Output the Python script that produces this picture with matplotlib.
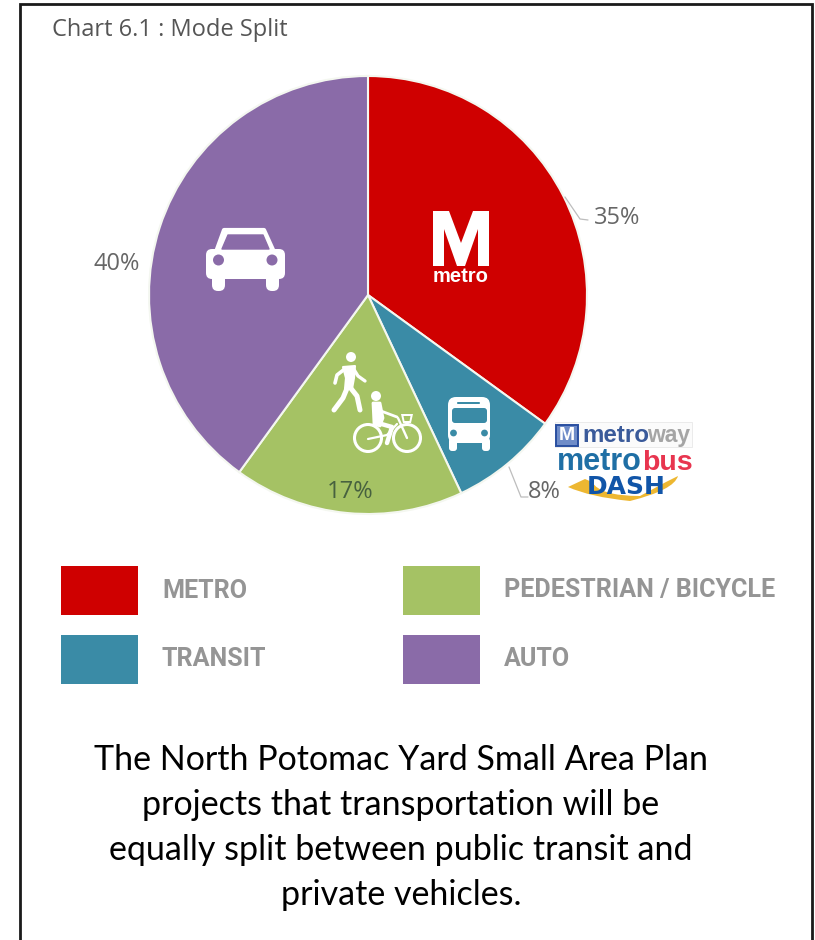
import matplotlib
matplotlib.use("Agg")
import matplotlib.pyplot as plt
from matplotlib.patches import Rectangle, Circle, FancyBboxPatch, Polygon
from matplotlib.path import Path
from matplotlib.patches import PathPatch

# Mode split shares
modes = ["METRO", "TRANSIT", "PEDESTRIAN / BICYCLE", "AUTO"]
shares = [35, 8, 17, 40]
colors = ["#CF0000", "#3A8BA6", "#A5C264", "#8A6BA8"]
share_labels = ["35%", "8%", "17%", "40%"]

title = "Chart 6.1 : Mode Split"
caption = [
    "The North Potomac Yard Small Area Plan",
    "projects that transportation will be",
    "equally split between public transit and",
    "private vehicles.",
]

W, H = 815, 940
fig = plt.figure(figsize=(W / 100, H / 100), dpi=100, facecolor="white")
ax = fig.add_axes([0, 0, 1, 1])

CX, CY, R = 368, 295, 219
ax.pie(shares, colors=colors, startangle=90, counterclock=False,
       center=(CX, -CY), radius=R, frame=True,
       wedgeprops=dict(edgecolor="#F4F7F0", linewidth=1.5))
ax.set_xlim(0, W)
ax.set_ylim(-H, 0)
ax.set_aspect("equal")
ax.axis("off")


def Y(y):
    return -y


def box(x0, y0, x1, y1, color="white", r=3, z=5):
    ax.add_patch(FancyBboxPatch((x0 + r, Y(y1) + r), x1 - x0 - 2 * r, y1 - y0 - 2 * r,
                                boxstyle=f"round,pad={r}", fc=color, ec="none", zorder=z))


def poly(points, color="white", z=5, round_lw=0.0):
    ax.add_patch(Polygon([(x, Y(y)) for x, y in points], closed=True, fc=color,
                         ec=color if round_lw else "none", lw=round_lw,
                         joinstyle="round", zorder=z))


def disc(x, y, r, color="white", z=5):
    ax.add_patch(Circle((x, Y(y)), r, fc=color, ec="none", zorder=z))


def ring(x, y, r, lw=2.0, color="white", z=5):
    ax.add_patch(Circle((x, Y(y)), r, fc="none", ec=color, lw=lw, zorder=z))


def stroke(points, lw=3.0, color="white", z=5):
    ax.plot([p[0] for p in points], [Y(p[1]) for p in points], color=color, lw=lw,
            solid_capstyle="round", solid_joinstyle="round", zorder=z)


# Outer frame, left open along the bottom edge
ax.plot([19.5, 19.5, 812, 812], [Y(940), Y(4), Y(4), Y(940)], color="#1A1A1A", lw=2.0,
        solid_joinstyle="miter", zorder=10)

# Title
ax.text(52, Y(30), title, fontsize=17, color="#555555", family="Open Sans", ha="left", va="center")

# Metro glyph
poly([(433, 211), (449, 211), (461, 243), (473, 211), (489, 211), (489, 266), (478, 266),
      (478, 229), (465, 266), (457, 266), (444, 229), (444, 266), (433, 266)])
ax.text(461, Y(277), "metro", fontsize=14.5, color="white", family="Liberation Sans", weight="bold",
        ha="center", va="center", zorder=5)

# Car glyph
box(206, 249, 285, 279, r=6)
poly([(216, 252), (224, 230), (264, 230), (274, 252)], round_lw=3)
poly([(222, 249), (228, 235), (263, 235), (269, 249)], colors[3], z=6, round_lw=1)
poly([(214, 250), (276, 250), (276, 256), (214, 256)])
box(212, 272, 225, 291, r=6)
box(266, 272, 279, 291, r=6)
disc(218.5, 260, 5.5, colors[3], z=6)
disc(272, 260, 5.5, colors[3], z=6)

# Bus glyph
box(448, 397, 490, 443, r=8)
box(449, 438, 457, 451, r=3)
box(482, 438, 490, 451, r=3)
box(452, 408, 487, 423, colors[1], r=3, z=6)
disc(453.5, 433, 3.4, colors[1], z=6)
disc(484.5, 433, 3.4, colors[1], z=6)
box(457, 402, 480, 404, colors[1], r=1, z=6)

# Pedestrian glyph
disc(351, 357, 5)
poly([(343, 367), (355, 366), (354, 378), (352, 389), (345, 389), (346, 378)], round_lw=1.5)
stroke([(346, 368), (337, 375), (335, 383)], lw=2.6)
stroke([(353, 368), (358, 376), (365, 381)], lw=2.4)
stroke([(348, 386), (343, 398), (334, 410)], lw=3.6)
stroke([(349, 386), (357, 396), (360, 410)], lw=3.6)

# Cyclist glyph
disc(376, 396, 5)
poly([(373, 403), (380, 403), (383, 418), (380, 426), (374, 424)], round_lw=2)
stroke([(381, 411), (397, 417)], lw=2.0)
stroke([(378, 423), (392, 427), (387, 443)], lw=3.2)
ring(368, 438, 13.5, lw=2.2)
ring(407, 438, 13.5, lw=2.2)
stroke([(368, 439), (387, 435), (397, 424)], lw=1.6)
stroke([(398, 418), (407, 438)], lw=1.7)
poly([(401, 414), (413, 414), (411, 423), (403, 423)])
poly([(403.5, 416), (410.5, 416), (409.5, 421), (404.5, 421)], colors[2], z=6)

# Share labels and leader lines
label_grey = "#666666"
stroke([(565, 197), (580, 219), (588, 220)], lw=0.9, color="#BDBDBD")
stroke([(509, 467), (521, 497), (528, 497)], lw=0.9, color="#BDBDBD")
label_font = dict(fontsize=17, family="Open Sans", ha="center", va="center", zorder=6)
ax.text(617, Y(218), share_labels[0], color=label_grey, **label_font)
ax.text(544, Y(492), share_labels[1], color=label_grey, **label_font)
ax.text(350, Y(492), share_labels[2], color="#47613F", **label_font)
ax.text(117, Y(264), share_labels[3], color=label_grey, **label_font)

# Service logos beside the transit slice
logo = dict(family="Liberation Sans", weight="bold", ha="left", va="center", zorder=6)
ax.add_patch(Rectangle((555, Y(447)), 137, 25, fc="#FBFBFB", ec="#E8E8E8", lw=0.6, zorder=4))
ax.add_patch(Rectangle((556, Y(446)), 22, 21, fc="#6F8CC8", ec="#2A4FA0", lw=1.4, zorder=5))
ax.text(567, Y(436), "M", fontsize=14, color="white", weight="bold", family="Liberation Sans",
        ha="center", va="center", zorder=6)
ax.text(582, Y(435.5), "metro", fontsize=17.4, color="#3A5A9A", **logo)
ax.text(647, Y(435.5), "way", fontsize=16.5, color="#A5A5A5", **logo)
ax.text(557, Y(462.5), "metro", fontsize=22, color="#1F6FA5", **logo)
ax.text(642, Y(462.5), "bus", fontsize=20.5, color="#E8354F", **logo)
ax.add_patch(PathPatch(Path([(568, Y(487)), (585, Y(479)), (592, Y(482)), (600, Y(496)), (640, Y(496)),
                             (666, Y(482)), (678, Y(476)), (674, Y(490)), (630, Y(501)), (590, Y(497)), (568, Y(487))],
                            [Path.MOVETO, Path.LINETO, Path.LINETO, Path.CURVE3, Path.CURVE3, Path.LINETO,
                             Path.LINETO, Path.CURVE3, Path.CURVE3, Path.CURVE3, Path.CURVE3]),
                       fc="#EDB731", ec="none", zorder=5))
ax.text(626, Y(486.5), "DASH", fontsize=18, color="#1155A8", weight="bold", family="DejaVu Sans",
        ha="center", va="center", zorder=6)

# Legend
legend_pos = [(61, 566), (61, 635), (403, 566), (403, 635)]
legend_text = [(162, 590.5), (162, 658.5), (504, 590.5), (504, 658.5)]
for mode, color, (bx, by), (tx, ty) in zip(modes, colors, legend_pos, legend_text):
    ax.add_patch(Rectangle((bx, Y(by + 49)), 77, 49, fc=color, ec="none"))
    ax.text(tx, Y(ty), mode, fontsize=18.1, color="#959595", family="Roboto",
            weight="bold", ha="left", va="center")

# Caption
for text, y in zip(caption, [760, 805, 850, 895]):
    ax.text(401, Y(y), text, fontsize=24.5, color="black", family="Lato", ha="center", va="center")

fig.savefig("out.png", dpi=100, facecolor="white")
